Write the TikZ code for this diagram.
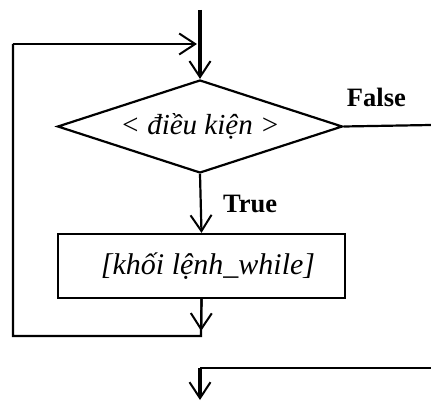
\documentclass[tikz,border=0pt]{standalone}
\usepackage{fontspec}
\setmainfont{Liberation Serif}
\usetikzlibrary{arrows.meta,shapes.geometric}
\begin{document}
\begin{tikzpicture}[x=1pt,y=-1pt,line width=2.2pt,
  >={Straight Barb[length=16pt,width=21pt,line width=2pt]},
  font=\fontsize{26.5}{30}\selectfont]
   \useasboundingbox (0,0) rectangle (431,403);
   % 条件と命令ブロック
   \node[diamond,draw,aspect=3.04,inner sep=0pt,minimum width=285pt,minimum height=93pt] (dk) at (200,126.5) {\fontsize{29}{32}\selectfont\itshape < điều kiện >};
   \node[draw,minimum width=287pt,minimum height=64pt,inner sep=0pt] (kl) at (201.5,266) {\fontsize{30}{32}\selectfont\itshape\hspace*{13pt}[khối lệnh\_while]};

   % 入口
   \coordinate (in) at (200,10);
   \coordinate (g) at (200,44);
   \draw[line width=3.5pt] (in) -- (g);
   \draw[line width=3.2pt,->] (g) -- (dk.north);
   \draw[->] (dk.south) -- node[right=18pt] {\bfseries True} (kl.north);

   % ループ
   \coordinate (lb) at (201,336);
   \coordinate (ll) at (13,336);
   \coordinate (lt) at (13,44);
   \draw (kl.south) -- (lb) -- (ll) -- (lt);
   \draw[->,shorten >=5pt] (kl.south) -- (lb);
   \draw[->,shorten >=3pt] (lt) -- (g);

   % 出口
   \coordinate (fr) at (431,125);
   \draw (dk.east) -- node[pos=0.375,above=15pt] {\bfseries False} (fr);
   \coordinate (br) at (431,368);
   \coordinate (bl) at (200,368);
   \coordinate (out) at (200,400);
   \draw (br) -- (bl);
   \draw[line width=3.5pt,->] (bl) -- (out);
\end{tikzpicture}
\end{document}
